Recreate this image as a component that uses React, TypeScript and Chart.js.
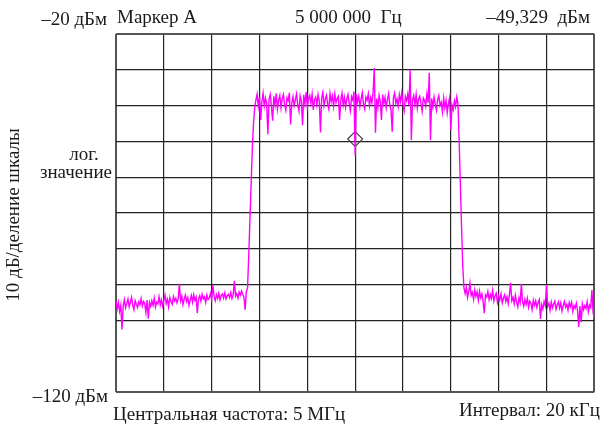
import React, { useEffect, useRef } from "react";
import { Chart, registerables } from "chart.js";
Chart.register(...registerables);

// Frequency offset from centre (kHz); span 20 kHz around 5 MHz
const FREQ_START = -10;
const FREQ_END = 10;
const X_TICK_STEP = 2;
const Y_MIN = -120;
const Y_MAX = -20;
const Y_TICK_STEP = 10;

// Trace levels (dBm), read left to right
const leftNoise = [
  -94.5, -96.8, -95.0, -97.5, -95.8, -102.5, -96.0, -94.2, -96.5, -95.3,
  -94.0, -96.2, -95.0, -93.6, -95.8, -97.0, -94.5, -95.5, -96.4, -94.8,
  -95.6, -93.9, -96.0, -94.7, -95.2, -97.8, -94.3, -99.5, -95.0, -96.1,
  -94.5, -95.8, -93.8, -96.3, -94.9, -95.4, -93.4, -95.7, -94.2, -96.0,
  -94.4, -93.0, -95.3, -94.1, -96.2, -93.6, -94.8, -95.5, -93.3, -94.6,
  -93.8, -95.1, -94.0, -89.8, -94.5, -93.2, -95.6, -94.1, -92.9, -94.7,
  -93.6, -95.8, -94.3, -93.0, -94.9, -92.8, -94.4, -93.5, -98.0, -93.9,
  -93.1, -94.6, -92.7, -94.0, -93.4, -95.0, -92.9, -94.2, -93.7, -92.5,
  -94.1, -90.2, -93.3, -94.5, -92.8, -93.9, -92.4, -94.3, -93.0, -92.6,
  -93.8, -92.3, -94.0, -93.1, -92.7, -93.6, -92.2, -93.9, -92.9, -89.0,
  -93.2, -92.5, -93.8, -92.1, -93.0, -91.8, -92.7, -93.5, -97.0, -92.0,
];
const leftEdge = [-91.0, -82.0, -72.0, -62.0, -52.0, -45.0, -40.5];
const band = [
  -38.5, -36.8, -40.2,
  -37.6, -44.0, -38.9, -36.5, -40.1, -37.9, -39.5, -48.0, -38.2, -36.9,
  -40.3, -44.2, -37.4, -39.8, -36.6, -41.0, -38.5, -37.2, -40.6, -38.0,
  -36.9, -39.7, -41.3, -37.8, -38.6, -36.4, -45.3, -39.2, -37.5, -40.0,
  -38.3, -36.7, -39.9, -41.5, -37.3, -38.8, -45.5, -37.0, -39.6, -36.2,
  -40.4, -38.1, -37.2, -39.4, -36.8, -41.2, -38.4, -37.6, -39.9, -36.9,
  -38.7, -47.5, -37.9, -36.3, -40.0, -38.2, -37.1, -39.6, -41.0, -36.6,
  -38.9, -37.3, -40.2, -36.7, -39.1, -38.0, -37.4, -44.0, -38.6, -36.5,
  -39.8, -37.7, -40.5, -38.1, -36.9, -39.3, -41.4, -37.5, -38.4, -36.1,
  -54.0,
  -36.8, -39.0, -37.4, -40.3, -38.2, -36.4, -39.7, -41.0, -37.6,
  -38.5, -36.7, -40.1, -37.8, -39.2, -36.3, -29.5, -47.6, -38.0, -40.4,
  -37.1, -38.8, -44.0, -36.9, -39.5, -37.7, -40.6, -38.3, -36.6, -39.9,
  -41.2, -47.3, -37.8, -36.5, -39.4, -38.1, -40.2, -37.0, -38.9, -36.4,
  -39.6, -41.4, -37.5, -38.7, -36.8, -40.0, -30.0, -49.6, -38.4, -37.2,
  -39.8, -36.9, -40.7, -38.2, -37.4, -39.3, -41.6, -37.9, -38.6, -40.1,
  -36.7, -39.2, -30.8, -49.6, -38.0, -40.4, -37.6, -39.7, -41.3, -38.3,
  -37.2, -40.0, -39.1, -41.8, -37.9, -40.6, -38.5, -42.0, -39.4, -37.8,
  -46.8, -39.9, -41.2, -38.7, -40.3, -37.6, -39.5,
];
const rightEdge = [-50.0, -62.0, -74.0, -85.0];
const rightNoise = [
  -91.0,
  -92.5, -90.8, -93.6, -91.9, -89.6, -93.0, -92.2, -94.1,
  -91.5, -93.3, -92.0, -94.4, -91.8, -93.7, -92.6, -94.8, -98.0, -92.9,
  -93.5, -91.9, -94.2, -92.7, -93.9, -91.6, -94.6, -93.1, -92.4, -95.0,
  -93.2, -94.3, -92.6, -95.1, -93.8, -92.9, -94.7, -93.4, -95.3, -92.8,
  -89.5, -94.5, -93.6, -95.4, -93.0, -94.9, -96.2, -93.7, -95.0, -89.8,
  -94.8, -96.0, -94.1, -95.5, -93.8, -96.3, -94.6, -95.2, -97.0, -94.3,
  -95.8, -94.5, -96.4, -95.0, -94.2, -99.6, -95.6, -96.8, -94.7, -95.9,
  -90.1, -96.1, -95.3, -97.2, -94.9, -96.5, -95.4, -94.6, -96.9, -95.7,
  -94.8, -96.6, -95.1, -97.4, -95.9, -94.7, -96.3, -95.5, -97.1, -95.0,
  -96.2, -94.9, -97.5, -95.8, -96.6, -95.2, -97.3, -101.8, -96.0, -100.5,
  -95.4, -97.0, -95.9, -96.7, -94.8, -97.6, -95.7, -96.4, -91.5, -97.8,
  -99.5,
];
const levels = [...leftNoise, ...leftEdge, ...band, ...rightEdge, ...rightNoise];

const MARKER_FREQ = 0;
const MARKER_LEVEL = -49.329;

const headerLeft = "Маркер А";
const headerMid = "5 000 000  Гц";
const headerRight = "–49,329  дБм";
const topLevelLabel = "–20 дБм";
const bottomLevelLabel = "–120 дБм";
const scaleLabel1 = "лог.";
const scaleLabel2 = "значение";
const yAxisTitle = "10 дБ/деление шкалы";
const centerLabel = "Центральная частота: 5 МГц";
const spanLabel = "Интервал: 20 кГц";

const FONT = "19px 'Liberation Serif', 'DejaVu Serif', serif";

const textPlugin = {
  id: "texts",
  beforeDraw(chart: any) {
    const ctx = chart.ctx;
    ctx.save();
    ctx.fillStyle = "#fff";
    ctx.fillRect(0, 0, chart.width, chart.height);
    ctx.restore();
  },
  afterDraw(chart: any) {
    const ctx = chart.ctx;
    ctx.save();
    ctx.fillStyle = "#1a1a1a";
    ctx.font = FONT;
    ctx.textBaseline = "middle";
    ctx.textAlign = "left";
    ctx.fillText(headerLeft, 117, 18);
    ctx.fillText(headerMid, 295, 18);
    ctx.textAlign = "right";
    ctx.fillText(headerRight, 590, 18);
    ctx.fillText(topLevelLabel, 107, 20);
    ctx.fillText(bottomLevelLabel, 108, 397);
    ctx.textAlign = "center";
    ctx.fillText(scaleLabel1, 84, 155);
    ctx.textAlign = "right";
    ctx.fillText(scaleLabel2, 112, 173);
    ctx.textAlign = "left";
    ctx.fillText(centerLabel, 113, 415);
    ctx.textAlign = "right";
    ctx.fillText(spanLabel, 600, 411);
    ctx.translate(14, 215);
    ctx.rotate(-Math.PI / 2);
    ctx.textAlign = "center";
    ctx.fillText(yAxisTitle, 0, 0);
    ctx.restore();
  },
};

export default function App() {
  const ref = useRef<HTMLCanvasElement | null>(null);
  useEffect(() => {
    document.body.style.margin = "0";
    const n = levels.length;
    const step = (FREQ_END - FREQ_START) / (n - 1);
    const trace = levels.map((v, i) => ({ x: FREQ_START + i * step, y: v }));
    const edgeColor = (ctx: any, lastIdx: number) =>
      ctx.index === 0 || ctx.index === lastIdx ? "#555" : "#222";
    const chart = new Chart(ref.current as HTMLCanvasElement, {
      type: "line",
      data: {
        datasets: [
          {
            data: trace,
            borderColor: "#ff00ff",
            borderWidth: 1.4,
            pointRadius: 0,
            tension: 0,
          },
          {
            type: "scatter",
            data: [{ x: MARKER_FREQ, y: MARKER_LEVEL }],
            pointStyle: "rectRot",
            pointRadius: 7.5,
            borderColor: "#444",
            borderWidth: 1.2,
            backgroundColor: "rgba(0,0,0,0)",
          } as any,
        ],
      },
      options: {
        responsive: false,
        animation: false,
        events: [],
        layout: { padding: { left: 116, top: 34, right: 7, bottom: 40 } },
        plugins: { legend: { display: false }, tooltip: { enabled: false } },
        scales: {
          x: {
            type: "linear",
            min: FREQ_START,
            max: FREQ_END,
            ticks: { display: false, stepSize: X_TICK_STEP },
            grid: {
              drawTicks: false,
              tickLength: 0,
              color: (c: any) => edgeColor(c, 10),
              lineWidth: (c: any) => (c.index === 0 || c.index === 10 ? 2 : 1.2),
            },
            border: { display: false },
          },
          y: {
            min: Y_MIN,
            max: Y_MAX,
            ticks: { display: false, stepSize: Y_TICK_STEP },
            grid: {
              drawTicks: false,
              tickLength: 0,
              color: (c: any) => edgeColor(c, 10),
              lineWidth: (c: any) => (c.index === 0 || c.index === 10 ? 2 : 1.2),
            },
            border: { display: false },
          },
        },
      },
      plugins: [textPlugin],
    });
    return () => chart.destroy();
  }, []);
  return (
    <div style={{ position: "fixed", left: 0, top: 0, width: 603, height: 432, background: "#fff" }}>
      <canvas ref={ref} width={603} height={432} style={{ display: "block" }} />
    </div>
  );
}
